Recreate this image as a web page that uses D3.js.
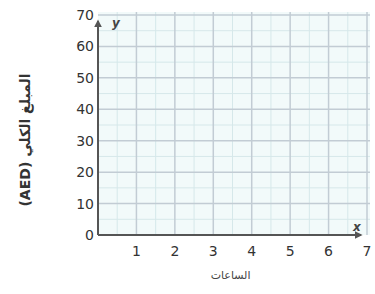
<!DOCTYPE html>
<html>
<head>
<meta charset="utf-8">
<script src="https://cdn.jsdelivr.net/npm/d3@7"></script>
<style>
  body { margin: 0; background: #fff; }
  svg { display: block; }
  text { font-family: "DejaVu Sans", sans-serif; }
</style>
</head>
<body>
<svg id="chart"></svg>
<script>
const WIDTH = 375;
const HEIGHT = 294;

const xTicks = [1, 2, 3, 4, 5, 6, 7];
const yTicks = [0, 10, 20, 30, 40, 50, 60, 70];
const xMinor = [0.5, 1.5, 2.5, 3.5, 4.5, 5.5, 6.5];
const yMinor = [5, 15, 25, 35, 45, 55, 65];
const yTitle = 'المبلغ الكلي (AED)';
const xTitle = 'الساعات';

const svg = d3.select('#chart')
    .attr('width', WIDTH)
    .attr('height', HEIGHT);

const x = d3.scaleLinear().domain([0, 7]).range([98, 367]);
const y = d3.scaleLinear().domain([0, 70]).range([235, 15]);

// grid background
svg.append('rect')
    .attr('x', x(0))
    .attr('y', y(70) - 3)
    .attr('width', x(7) + 3 - x(0))
    .attr('height', y(0) - y(70) + 3)
    .attr('fill', '#f2fafa');

const grid = svg.append('g');

grid.selectAll('.vminor')
    .data(xMinor)
    .join('line')
    .attr('x1', d => x(d)).attr('x2', d => x(d))
    .attr('y1', y(70) - 3).attr('y2', y(0))
    .attr('stroke', '#d6e8ea')
    .attr('stroke-width', 1);

grid.selectAll('.hminor')
    .data(yMinor)
    .join('line')
    .attr('x1', x(0)).attr('x2', x(7) + 3)
    .attr('y1', d => y(d)).attr('y2', d => y(d))
    .attr('stroke', '#d6e8ea')
    .attr('stroke-width', 1);

grid.selectAll('.vmajor')
    .data(xTicks)
    .join('line')
    .attr('x1', d => x(d)).attr('x2', d => x(d))
    .attr('y1', y(70) - 3).attr('y2', y(0))
    .attr('stroke', '#c2ccd4')
    .attr('stroke-width', 1.5);

grid.selectAll('.hmajor')
    .data(yTicks.slice(1))
    .join('line')
    .attr('x1', x(0)).attr('x2', x(7) + 3)
    .attr('y1', d => y(d)).attr('y2', d => y(d))
    .attr('stroke', '#c2ccd4')
    .attr('stroke-width', 1.5);

// axes with arrows
const defs = svg.append('defs');
defs.append('marker')
    .attr('id', 'arrow')
    .attr('viewBox', '0 0 10 10')
    .attr('refX', 8).attr('refY', 5)
    .attr('markerWidth', 4).attr('markerHeight', 4)
    .attr('orient', 'auto')
    .append('path')
    .attr('d', 'M0,0 L10,5 L0,10 z')
    .attr('fill', '#555');

svg.append('line')
    .attr('x1', x(0)).attr('x2', x(0))
    .attr('y1', y(0)).attr('y2', y(70) + 6)
    .attr('stroke', '#555')
    .attr('stroke-width', 2)
    .attr('marker-end', 'url(#arrow)');

svg.append('line')
    .attr('x1', x(0)).attr('x2', x(7) - 6)
    .attr('y1', y(0)).attr('y2', y(0))
    .attr('stroke', '#555')
    .attr('stroke-width', 2)
    .attr('marker-end', 'url(#arrow)');

svg.append('text')
    .attr('x', x(0) + 14).attr('y', y(70) + 12)
    .attr('font-size', 12)
    .attr('font-style', 'italic')
    .attr('font-weight', 'bold')
    .attr('fill', '#444')
    .text('y');

svg.append('text')
    .attr('x', x(7) - 14).attr('y', y(0) - 4)
    .attr('font-size', 12)
    .attr('font-style', 'italic')
    .attr('font-weight', 'bold')
    .attr('fill', '#444')
    .text('x');

// tick labels
svg.selectAll('.xlab')
    .data(xTicks)
    .join('text')
    .attr('x', d => x(d))
    .attr('y', y(0) + 21)
    .attr('text-anchor', 'middle')
    .attr('font-size', 14)
    .attr('fill', '#333')
    .text(d => d);

svg.selectAll('.ylab')
    .data(yTicks)
    .join('text')
    .attr('x', x(0) - 4)
    .attr('y', d => y(d) + 5)
    .attr('text-anchor', 'end')
    .attr('font-size', 14)
    .attr('fill', '#333')
    .text(d => d);

// titles
svg.append('text')
    .attr('transform', `translate(30, ${(y(0) + y(70)) / 2 + 15}) rotate(-90)`)
    .attr('text-anchor', 'middle')
    .attr('direction', 'rtl')
    .attr('font-size', 14)
    .attr('font-weight', 'bold')
    .attr('fill', '#333')
    .attr('font-family', '"Noto Sans", "DejaVu Sans", sans-serif')
    .text(yTitle);

svg.append('text')
    .attr('x', x(3.45))
    .attr('y', y(0) + 44)
    .attr('text-anchor', 'middle')
    .attr('font-size', 11)
    .attr('fill', '#444')
    .attr('font-family', '"Noto Sans", "DejaVu Sans", sans-serif')
    .text(xTitle);
</script>
</body>
</html>
